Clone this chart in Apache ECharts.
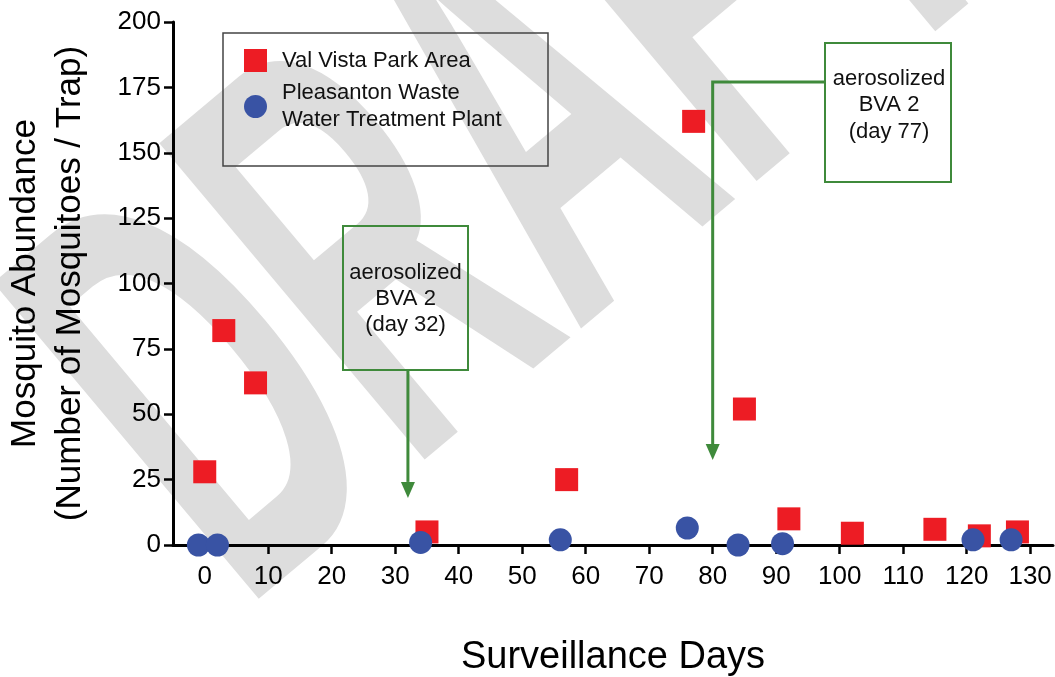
<!DOCTYPE html>
<html>
<head>
<meta charset="utf-8">
<script src="https://cdn.jsdelivr.net/npm/echarts@6/dist/echarts.min.js"></script>
<style>
html,body{margin:0;padding:0;background:#ffffff;}
#chart{width:1055px;height:677px;}
</style>
</head>
<body>
<div id="chart"></div>
<script>
// ---- data ----
const seriesNames = ['Val Vista Park Area', 'Pleasanton Waste\nWater Treatment Plant'];
const valVistaDays = [0, 3, 8, 35, 57, 77, 85, 92, 102, 115, 122, 128];
const valVistaAbundance = [28, 82, 62, 5, 25, 162, 52, 10, 4.5, 6, 3.5, 5];
const pleasantonDays = [-1, 2, 34, 56, 76, 84, 91, 121, 127];
const pleasantonAbundance = [0, 0, 1, 2, 6.5, 0, 0.5, 2, 2];
const xTickValues = [0, 10, 20, 30, 40, 50, 60, 70, 80, 90, 100, 110, 120, 130];
const annotationTexts = ['aerosolized\nBVA 2\n(day 32)', 'aerosolized\nBVA 2\n(day 77)'];
const arrowDays = [32, 80];
const arrowTipValues = [18, 32.5];
const watermarkText = 'DRAFT';

const FONT = 'Liberation Sans, Arial, Helvetica, sans-serif';
const RED = '#ed1c24';
const BLUE = '#3953a4';
const GREEN = '#3f8a3b';

const chart = echarts.init(document.getElementById('chart'), null, {renderer: 'canvas'});

chart.setOption({
  backgroundColor: '#ffffff',
  animation: false,
  textStyle: {fontFamily: FONT},
  grid: {left: 173, right: 2, top: 22, bottom: 132, containLabel: false, outerBoundsMode: 'none'},
  xAxis: {
    type: 'value', min: -5, max: 133.6,
    name: 'Surveillance Days', nameLocation: 'middle', nameGap: 94,
    nameTextStyle: {fontSize: 38, color: '#000', fontFamily: FONT},
    axisLine: {show: true, onZero: false, lineStyle: {color: '#000', width: 3}},
    axisTick: {show: true, length: 9, lineStyle: {color: '#000', width: 2.5}, customValues: xTickValues},
    axisLabel: {fontSize: 26, color: '#000', margin: 19, fontFamily: FONT, customValues: xTickValues},
    splitLine: {show: false}
  },
  yAxis: {
    type: 'value', min: 0, max: 200, interval: 25,
    name: 'Mosquito Abundance\n(Number of Mosquitoes / Trap)', nameLocation: 'middle', nameRotate: 90, nameGap: 80,
    nameTextStyle: {fontSize: 35, color: '#000', lineHeight: 45, fontFamily: FONT},
    axisLine: {show: true, onZero: false, lineStyle: {color: '#000', width: 3}},
    axisTick: {show: true, length: 9, lineStyle: {color: '#000', width: 2.5}},
    axisLabel: {fontSize: 26, color: '#000', margin: 12, fontFamily: FONT},
    splitLine: {show: false}
  },
  legend: {
    orient: 'vertical', left: 244, top: 47, padding: 0, itemWidth: 23, itemHeight: 23, itemGap: -8, selectedMode: false,
    textStyle: {fontSize: 22, color: '#111', lineHeight: 27, fontFamily: FONT},
    data: [
      {name: seriesNames[0], icon: 'rect', itemStyle: {opacity: 1}, textStyle: {padding: [0, 0, 0, 10]}},
      {name: seriesNames[1], icon: 'circle', itemStyle: {opacity: 1}, textStyle: {padding: [27, 0, 0, 10]}}
    ]
  },
  series: [
    {name: seriesNames[0], type: 'scatter', symbol: 'rect', symbolSize: 23, clip: false, z: 3,
     itemStyle: {color: RED, opacity: 1}, data: valVistaDays.map((d, i) => [d, valVistaAbundance[i]])},
    {name: seriesNames[1], type: 'scatter', symbol: 'circle', symbolSize: 23, clip: false, z: 4,
     itemStyle: {color: BLUE, opacity: 1}, data: pleasantonDays.map((d, i) => [d, pleasantonAbundance[i]])}
  ]
});

// ---- annotations and watermark ----
const tip1 = chart.convertToPixel({gridIndex: 0}, [arrowDays[0], arrowTipValues[0]]);
const tip2 = chart.convertToPixel({gridIndex: 0}, [arrowDays[1], arrowTipValues[1]]);
const box1 = {x: 343, y: 226, w: 125, h: 144};
const box2 = {x: 825, y: 43, w: 126, h: 139};
const connectorY = 82;
const headH = 16, headW = 14;
const deg = Math.PI / 180;

const elements = [
  {type: 'text', z: -10, x: 137, y: 485, rotation: 40 * deg, scaleX: 0.5, scaleY: 1, silent: true,
   style: {text: watermarkText, fontSize: 600, fontWeight: 'bold', fontFamily: FONT, fill: '#dddddd', align: 'left', verticalAlign: 'middle'}},
  {type: 'rect', z: 5, shape: {x: 223, y: 33, width: 325, height: 133}, style: {fill: 'none', stroke: '#444', lineWidth: 1.5}},
  {type: 'rect', z: 5, shape: {x: box1.x, y: box1.y, width: box1.w, height: box1.h}, style: {fill: 'none', stroke: GREEN, lineWidth: 2}},
  {type: 'text', z: 5, x: box1.x + box1.w / 2, y: 299,
   style: {text: annotationTexts[0], fontSize: 22, lineHeight: 26, fontFamily: FONT, fill: '#111', align: 'center', verticalAlign: 'middle'}},
  {type: 'line', z: 5, shape: {x1: tip1[0], y1: box1.y + box1.h, x2: tip1[0], y2: tip1[1] - headH}, style: {stroke: GREEN, lineWidth: 3}},
  {type: 'polygon', z: 5, shape: {points: [[tip1[0] - headW / 2, tip1[1] - headH], [tip1[0] + headW / 2, tip1[1] - headH], [tip1[0], tip1[1]]]}, style: {fill: GREEN}},
  {type: 'rect', z: 5, shape: {x: box2.x, y: box2.y, width: box2.w, height: box2.h}, style: {fill: 'none', stroke: GREEN, lineWidth: 2}},
  {type: 'text', z: 5, x: box2.x + box2.w / 2 + 1, y: 105,
   style: {text: annotationTexts[1], fontSize: 22, lineHeight: 26.5, fontFamily: FONT, fill: '#111', align: 'center', verticalAlign: 'middle'}},
  {type: 'polyline', z: 5, shape: {points: [[box2.x, connectorY], [tip2[0], connectorY], [tip2[0], tip2[1] - headH]]}, style: {stroke: GREEN, lineWidth: 3, fill: 'none'}},
  {type: 'polygon', z: 5, shape: {points: [[tip2[0] - headW / 2, tip2[1] - headH], [tip2[0] + headW / 2, tip2[1] - headH], [tip2[0], tip2[1]]]}, style: {fill: GREEN}}
];
chart.setOption({graphic: {elements: elements}});
</script>
</body>
</html>
